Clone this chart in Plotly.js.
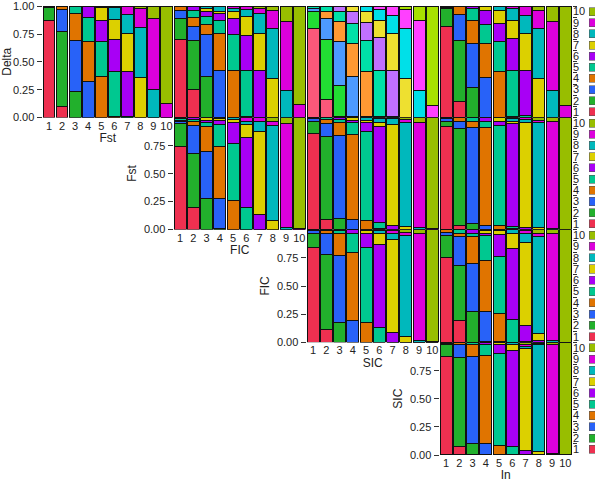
<!DOCTYPE html>
<html>
<head>
<meta charset="utf-8">
<script src="https://cdn.plot.ly/plotly-3.0.1.min.js"></script>
<style>html,body{margin:0;padding:0;background:#fff}#chart{width:600px;height:482px}</style>
</head>
<body>
<div id="chart"></div>
<script>
// ---- categories ----
const levels = ['1','2','3','4','5','6','7','8','9','10'];
const rowVars = ['Delta','Fst','FIC','SIC'];
const colVars = ['Fst','FIC','SIC','In'];
const yTickVals = [0, 0.25, 0.5, 0.75, 1];
const yTickText = ['0.00','0.25','0.50','0.75','1.00'];

// ---- colours for levels 1..10 ----
const palette = ['#ee3050','#22b02c','#2862f8','#e07400','#00c890','#a800f5','#dcd000','#00b8bc','#dc00dc','#98be00'];
const paletteLight = ['#fa587a','#22dd33','#4d9aff','#ff9933','#00e0a8','#c070ff','#eee030','#00e0e8','#ff40ff','#a8e000'];

// ---- data: each inner list = one bar (column level), proportions of row levels 1..10 ----
const delta_by_fst = [
  [0.87,0.12,0.005,0.005,0,0,0,0,0,0],
  [0.10,0.67,0.20,0.03,0,0,0,0,0,0],
  [0,0.23,0.465,0.24,0.065,0,0,0,0,0],
  [0,0,0.32,0.36,0.22,0.10,0,0,0,0],
  [0,0,0,0.37,0.31,0.19,0.12,0.01,0,0],
  [0,0,0,0.01,0.40,0.29,0.18,0.11,0.01,0],
  [0,0,0,0,0.01,0.40,0.35,0.17,0.07,0],
  [0,0,0,0,0,0,0.36,0.45,0.17,0.02],
  [0,0,0,0,0,0,0,0.25,0.64,0.11],
  [0,0,0,0,0,0,0,0,0.125,0.875]
];
const delta_by_fic = [
  [0.70,0.19,0.075,0.035,0,0,0,0,0,0],
  [0.25,0.44,0.13,0.084,0.056,0.04,0,0,0,0],
  [0,0.37,0.375,0.095,0.07,0.04,0.03,0.02,0,0],
  [0,0,0.42,0.335,0.12,0.06,0.02,0.045,0,0],
  [0,0,0,0.42,0.325,0.145,0.06,0.03,0.02,0],
  [0,0,0,0.01,0.41,0.32,0.17,0.06,0.03,0],
  [0,0,0,0,0,0.42,0.335,0.185,0.04,0.02],
  [0,0,0,0,0,0,0.35,0.45,0.164,0.036],
  [0,0,0,0,0,0,0,0.24,0.628,0.132],
  [0,0,0,0,0,0,0,0,0.12,0.88]
];
const delta_by_sic = [
  [0.80,0.15,0.03,0,0.02,0,0,0,0,0],
  [0.16,0.54,0.19,0.065,0.045,0,0,0,0,0],
  [0.01,0.28,0.39,0.18,0.09,0.05,0,0,0,0],
  [0,0.01,0.355,0.305,0.18,0.10,0.05,0,0,0],
  [0,0,0.01,0.40,0.285,0.16,0.10,0.045,0,0],
  [0,0,0,0.01,0.415,0.295,0.15,0.10,0.03,0],
  [0,0,0,0,0.01,0.415,0.33,0.165,0.08,0],
  [0,0,0,0,0,0,0.35,0.45,0.17,0.03],
  [0,0,0,0,0,0,0,0.24,0.63,0.13],
  [0,0,0,0,0,0,0,0,0.11,0.89]
];
const delta_by_in = [
  [0.82,0.16,0.01,0,0.01,0,0,0,0,0],
  [0.14,0.555,0.235,0.07,0,0,0,0,0,0],
  [0,0.27,0.395,0.205,0.11,0.02,0,0,0,0],
  [0,0,0.36,0.31,0.17,0.124,0.036,0,0,0],
  [0,0,0,0.41,0.27,0.17,0.114,0.036,0,0],
  [0,0,0,0.01,0.415,0.285,0.16,0.11,0.02,0],
  [0,0,0,0,0.02,0.405,0.33,0.165,0.08,0],
  [0,0,0,0,0,0,0.35,0.45,0.164,0.036],
  [0,0,0,0,0,0,0,0.24,0.628,0.132],
  [0,0,0,0,0,0,0,0,0.11,0.89]
];
const fst_by_fic = [
  [0.745,0.205,0.02,0.01,0.01,0.01,0,0,0,0],
  [0.20,0.485,0.245,0.035,0.02,0.015,0,0,0,0],
  [0,0.28,0.42,0.22,0.04,0.02,0.02,0,0,0],
  [0,0.01,0.27,0.464,0.196,0.04,0.01,0.01,0,0],
  [0,0,0,0.26,0.514,0.182,0.03,0.014,0,0],
  [0,0,0,0,0.20,0.62,0.12,0.03,0.03,0],
  [0,0,0,0,0,0.135,0.745,0.085,0.035,0],
  [0,0,0,0,0,0,0.08,0.855,0.03,0.035],
  [0,0,0,0,0,0,0,0.015,0.935,0.05],
  [0,0,0,0,0,0,0,0,0.01,0.99]
];
const fst_by_sic = [
  [0.86,0.11,0.02,0.01,0,0,0,0,0,0],
  [0.09,0.745,0.118,0.03,0.017,0,0,0,0,0],
  [0,0.10,0.744,0.11,0.03,0.016,0,0,0,0],
  [0,0,0.094,0.76,0.106,0.02,0.02,0,0,0],
  [0,0,0,0.08,0.80,0.08,0.02,0.02,0,0],
  [0,0,0,0.01,0.05,0.86,0.04,0.03,0.01,0],
  [0,0,0,0,0,0.035,0.905,0.05,0.01,0],
  [0,0,0,0,0,0,0.03,0.93,0.025,0.015],
  [0,0,0,0,0,0,0,0.02,0.94,0.04],
  [0,0,0,0,0,0,0,0,0.01,0.99]
];
const fst_by_in = [
  [0.92,0.05,0.02,0.01,0,0,0,0,0,0],
  [0.035,0.87,0.065,0.03,0,0,0,0,0,0],
  [0,0.05,0.86,0.06,0.03,0,0,0,0,0],
  [0,0,0.04,0.87,0.06,0.03,0,0,0,0],
  [0,0,0,0.04,0.89,0.04,0.03,0,0,0],
  [0,0,0,0.01,0.02,0.92,0.02,0.02,0.01,0],
  [0,0,0,0,0,0.02,0.935,0.03,0.015,0],
  [0,0,0,0,0,0,0.02,0.94,0.02,0.02],
  [0,0,0,0,0,0,0,0.01,0.96,0.03],
  [0,0,0,0,0,0,0,0,0,1]
];
const fic_by_sic = [
  [0.844,0.126,0.02,0.01,0,0,0,0,0,0],
  [0.118,0.667,0.185,0.02,0.01,0,0,0,0,0],
  [0,0.18,0.59,0.20,0.02,0.01,0,0,0,0],
  [0,0,0.197,0.603,0.17,0.03,0,0,0,0],
  [0,0,0,0.176,0.668,0.126,0.02,0.01,0,0],
  [0,0,0,0,0.13,0.743,0.097,0.02,0.01,0],
  [0,0,0,0,0,0.088,0.822,0.06,0.02,0.01],
  [0,0,0,0,0,0,0.05,0.903,0.027,0.02],
  [0,0,0,0,0,0,0,0.02,0.95,0.03],
  [0,0,0,0,0,0,0,0,0.01,0.99]
];
const fic_by_in = [
  [0.755,0.195,0.03,0.02,0,0,0,0,0,0],
  [0.197,0.49,0.254,0.03,0.029,0,0,0,0,0],
  [0,0.27,0.427,0.243,0.03,0.03,0,0,0,0],
  [0,0.01,0.266,0.45,0.22,0.024,0.02,0.01,0,0],
  [0,0,0.01,0.246,0.51,0.194,0.03,0.01,0,0],
  [0,0,0,0,0.206,0.624,0.14,0.03,0,0],
  [0,0,0,0,0.01,0.143,0.735,0.082,0.02,0.01],
  [0,0,0,0,0,0.02,0.06,0.86,0.03,0.03],
  [0,0,0,0,0,0,0,0.02,0.95,0.03],
  [0,0,0,0,0,0,0,0,0,1]
];
const sic_by_in = [
  [0.876,0.106,0.01,0.008,0,0,0,0,0,0],
  [0.08,0.784,0.118,0.018,0,0,0,0,0,0],
  [0,0.103,0.773,0.106,0.018,0,0,0,0,0],
  [0,0,0.103,0.782,0.097,0.018,0,0,0,0],
  [0,0,0,0.088,0.818,0.076,0.018,0,0,0],
  [0,0,0,0,0.074,0.856,0.052,0.018,0,0],
  [0,0,0,0,0,0.038,0.906,0.025,0.015,0.016],
  [0,0,0,0,0,0,0.03,0.95,0.01,0.01],
  [0,0,0,0,0,0,0,0.01,0.97,0.02],
  [0,0,0,0,0,0,0,0,0,1]
];

const panels = [
  {row:0, col:0, data:delta_by_fst},
  {row:0, col:1, data:delta_by_fic},
  {row:0, col:2, data:delta_by_sic, light:true},
  {row:0, col:3, data:delta_by_in},
  {row:1, col:1, data:fst_by_fic},
  {row:1, col:2, data:fst_by_sic},
  {row:1, col:3, data:fst_by_in},
  {row:2, col:2, data:fic_by_sic},
  {row:2, col:3, data:fic_by_in},
  {row:3, col:3, data:sic_by_in}
];

// ---- layout geometry (pixels) ----
const W = 600, H = 482;
const colPx = [[42.5,173],[173.5,306],[306.5,439],[439.5,572]];
const rowPx = [[6,117.5],[117.5,229.5],[229.5,342.3],[342.3,455]];
const xd = c => [colPx[c][0]/W, colPx[c][1]/W];
const yd = r => [1 - rowPx[r][1]/H, 1 - rowPx[r][0]/H];

const font = {family:'Liberation Sans, Arial, sans-serif', size:11, color:'#222'};
const traces = [];
const layout = {
  width: W, height: H,
  margin: {l:0, r:0, t:0, b:0, pad:0},
  paper_bgcolor: '#fff', plot_bgcolor: 'rgba(0,0,0,0)',
  barmode: 'stack', bargap: 0.1,
  showlegend: false,
  font: font
};

const xNums = levels.map((_, i) => i + 1);

panels.forEach((p, pi) => {
  const id = pi + 1;
  const xk = id === 1 ? 'xaxis' : 'xaxis' + id;
  const yk = id === 1 ? 'yaxis' : 'yaxis' + id;
  const xr = id === 1 ? 'x' : 'x' + id;
  const yr = id === 1 ? 'y' : 'y' + id;
  const diag = p.row === p.col;
  const pal = p.light ? paletteLight : palette;
  for (let k = 0; k < levels.length; k++) {
    traces.push({
      type: 'bar', x: xNums, y: p.data.map(b => b[k]),
      xaxis: xr, yaxis: yr,
      marker: {color: pal[k], line: {color: '#111', width: 1}},
      hoverinfo: 'skip'
    });
  }
  layout[xk] = {
    domain: xd(p.col), anchor: yr, range: [0.5, 10.5],
    tickvals: xNums, ticktext: levels, showticklabels: diag,
    ticks: '', showgrid: false, zeroline: false, showline: false,
    tickfont: {size: 11, color: '#222'},
    title: diag ? {text: colVars[p.col], font: {size: 12, color: '#222'}, standoff: 3} : {text: ''},
    fixedrange: true
  };
  const tv = p.row === 0 ? yTickVals : yTickVals.slice(0, 4);
  const tt = p.row === 0 ? yTickText : yTickText.slice(0, 4);
  layout[yk] = {
    domain: yd(p.row), anchor: xr, range: [0, 1.003],
    tickmode: 'array', tickvals: tv, ticktext: tt, showticklabels: diag,
    ticklabeloverflow: 'allow',
    ticks: diag ? 'outside' : '', ticklen: 5, tickcolor: '#333',
    showgrid: false, zeroline: false, showline: false,
    tickfont: {size: 11, color: '#222'},
    title: diag ? {text: rowVars[p.row], font: {size: 12, color: '#222'}, standoff: 4} : {text: ''},
    fixedrange: true
  };
});

// ---- per-row colour keys on the right ----
rowVars.forEach((rv, r) => {
  const id = 11 + r;
  const xr = 'x' + id, yr = 'y' + id;
  traces.push({
    type: 'bar', orientation: 'h', x: levels.map(() => 1), y: levels,
    base: 0, width: 0.72, xaxis: xr, yaxis: yr,
    marker: {color: palette, line: {color: '#555', width: 0.6}},
    hoverinfo: 'skip'
  });
  layout['xaxis' + id] = {
    domain: [589/W, 595/W], anchor: yr, range: [0, 1], visible: false, fixedrange: true
  };
  layout['yaxis' + id] = {
    domain: yd(r), anchor: 'free', position: 572/W, side: 'right',
    type: 'category', categoryorder: 'array', categoryarray: levels,
    tickmode: 'array', tickvals: levels, ticktext: levels,
    tickson: 'boundaries', ticks: 'outside', ticklen: 4, tickcolor: '#333',
    showgrid: false, zeroline: false, showline: false,
    ticklabeloverflow: 'allow',
    tickfont: {size: 11, color: '#222'}, fixedrange: true
  };
});

Plotly.newPlot('chart', traces, layout, {staticPlot: true, displayModeBar: false});
</script>
</body>
</html>
